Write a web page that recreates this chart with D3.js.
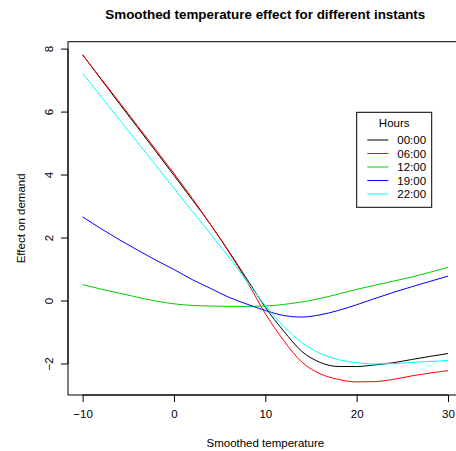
<!DOCTYPE html>
<html>
<head>
<meta charset="utf-8">
<script src="https://cdnjs.cloudflare.com/ajax/libs/d3/7.8.5/d3.min.js"></script>
<style>
  body { margin: 0; background: white; }
  text { font-family: "Liberation Sans", Arial, Helvetica, sans-serif; }
</style>
</head>
<body>
<div id="chart-area"></div>
<script>
// temperature grid
var temps = [-10, -8, -6, -4, -2, 0, 2, 4, 6, 8, 10, 12, 14, 16, 18, 20, 22, 24, 26, 28, 30];

// effect per hour
var h00 = [7.82, 7.05, 6.28, 5.52, 4.76, 3.99, 3.22, 2.43, 1.58, 0.69, -0.20, -0.95, -1.60, -1.95, -2.08, -2.08, -2.03, -1.96, -1.86, -1.76, -1.67];
var h06 = [7.82, 7.07, 6.32, 5.57, 4.81, 4.05, 3.26, 2.43, 1.56, 0.62, -0.40, -1.25, -1.94, -2.31, -2.49, -2.57, -2.56, -2.49, -2.38, -2.29, -2.21];
var h12 = [0.52, 0.38, 0.25, 0.12, 0.00, -0.09, -0.14, -0.16, -0.17, -0.17, -0.16, -0.11, -0.03, 0.08, 0.22, 0.37, 0.50, 0.63, 0.76, 0.91, 1.07];
var h19 = [2.67, 2.30, 1.95, 1.62, 1.30, 1.00, 0.68, 0.40, 0.12, -0.10, -0.30, -0.46, -0.51, -0.44, -0.30, -0.12, 0.08, 0.27, 0.45, 0.62, 0.79];
var h22 = [7.23, 6.50, 5.77, 5.04, 4.31, 3.58, 2.85, 2.13, 1.40, 0.62, -0.15, -0.80, -1.32, -1.66, -1.86, -1.96, -2.00, -1.99, -1.95, -1.92, -1.89];

var hours = ["00:00", "06:00", "12:00", "19:00", "22:00"];
var series = [h00, h06, h12, h19, h22];
var colors = ["#000000", "#FF0000", "#00CD00", "#0000FF", "#00FFFF"];

var xTicks = [-10, 0, 10, 20, 30];
var yTicks = [-2, 0, 2, 4, 6, 8];

var width = 456, height = 451;
var plot = { left: 68, top: 41.7, right: 462.6, bottom: 395 };
var fs = "11.5px";

var svg = d3.select("#chart-area").append("svg")
    .attr("width", width)
    .attr("height", height);

// R style 4% extension of the data range
var xmin = d3.min(temps), xmax = d3.max(temps);
var ymin = d3.min(series, (s) => d3.min(s)), ymax = d3.max(series, (s) => d3.max(s));
var xr = xmax - xmin, yr = ymax - ymin;

var x = d3.scaleLinear()
    .domain([xmin - 0.04 * xr, xmax + 0.04 * xr])
    .range([plot.left, plot.right]);

var y = d3.scaleLinear()
    .domain([ymin - 0.04 * yr, ymax + 0.04 * yr])
    .range([plot.bottom, plot.top]);

var line = d3.line()
    .x((d) => x(d[0]))
    .y((d) => y(d[1]))
    .curve(d3.curveMonotoneX);

series.forEach((s, i) => {
    svg.append("path")
        .datum(temps.map((t, j) => [t, s[j]]))
        .attr("fill", "none")
        .attr("stroke", colors[i])
        .attr("stroke-width", 1)
        .attr("d", line);
});

// box
svg.append("rect")
    .attr("x", plot.left)
    .attr("y", plot.top)
    .attr("width", plot.right - plot.left)
    .attr("height", plot.bottom - plot.top)
    .attr("fill", "none")
    .attr("stroke", "black")
    .attr("stroke-width", 1);

var bottomAxis = d3.axisBottom(x)
    .tickValues(xTicks)
    .tickSize(7)
    .tickPadding(8)
    .tickFormat((d) => d < 0 ? "\u2212" + Math.abs(d) : d);

var gx = svg.append("g")
    .attr("transform", "translate(0," + plot.bottom + ")")
    .call(bottomAxis);
gx.select(".domain")
    .attr("d", "M" + x(-10) + ",0H" + x(30));
gx.selectAll("text")
    .attr("font-size", fs)
    .attr("fill", "black")
    .style("font-family", "Liberation Sans, Arial, sans-serif");

var leftAxis = d3.axisLeft(y)
    .tickValues(yTicks)
    .tickSize(7)
    .tickFormat((d) => d < 0 ? "\u2212" + Math.abs(d) : d);

var gy = svg.append("g")
    .attr("transform", "translate(" + plot.left + ",0)")
    .call(leftAxis);
gy.select(".domain")
    .attr("d", "M0," + y(-2) + "V" + y(8));
gy.selectAll("text")
    .attr("font-size", fs)
    .attr("fill", "black")
    .attr("x", null)
    .attr("dy", null)
    .attr("text-anchor", "middle")
    .attr("transform", (d) => "translate(-15," + y(d) + ") rotate(-90)")
    .attr("y", 0)
    .style("font-family", "Liberation Sans, Arial, sans-serif");
gy.selectAll(".tick").attr("transform", null);
gy.selectAll(".tick line").attr("transform", (d) => "translate(0," + y(d) + ")");

// titles
svg.append("text")
    .attr("x", (plot.left + plot.right) / 2)
    .attr("y", 18.5)
    .attr("text-anchor", "middle")
    .attr("font-size", "13.4px")
    .attr("font-weight", "bold")
    .text("Smoothed temperature effect for different instants");

svg.append("text")
    .attr("x", (plot.left + plot.right) / 2)
    .attr("y", 447)
    .attr("text-anchor", "middle")
    .attr("font-size", fs)
    .text("Smoothed temperature");

svg.append("text")
    .attr("transform", "translate(25," + (plot.top + plot.bottom) / 2 + ") rotate(-90)")
    .attr("text-anchor", "middle")
    .attr("font-size", fs)
    .text("Effect on demand");

// legend
var lg = svg.append("g");
lg.append("rect")
    .attr("x", 356.7)
    .attr("y", 112.3)
    .attr("width", 75)
    .attr("height", 95)
    .attr("fill", "white")
    .attr("stroke", "black");
lg.append("text")
    .attr("x", 394.2)
    .attr("y", 126.8)
    .attr("text-anchor", "middle")
    .attr("font-size", fs)
    .text("Hours");

var rows = lg.selectAll(".row")
    .data(hours)
    .enter().append("g")
    .attr("transform", (d, i) => "translate(0," + (140 + i * 13.5) + ")");
rows.append("line")
    .attr("x1", 367.3).attr("x2", 388.3)
    .attr("stroke", (d, i) => colors[i])
    .attr("stroke-width", 1);
rows.append("text")
    .attr("x", 397.3)
    .attr("y", 4.2)
    .attr("font-size", fs)
    .text((d) => d);
</script>
</body>
</html>
